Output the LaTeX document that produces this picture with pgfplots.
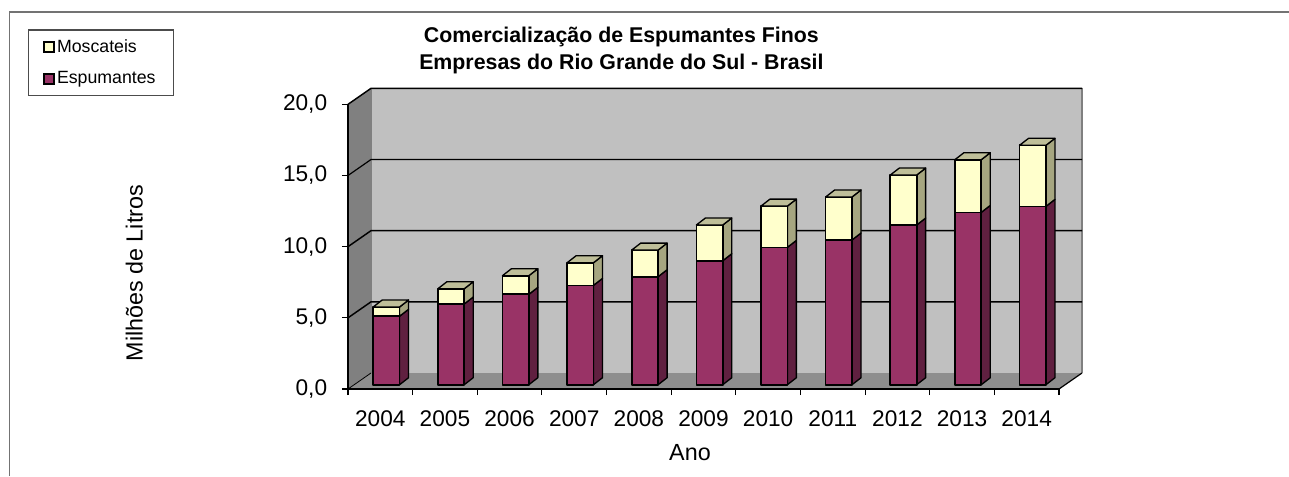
\documentclass[border=0pt]{standalone}
\usepackage{fontspec}
\setmainfont{Liberation Sans}
\usepackage{pgfplots}
\usepackage{pgfplotstable}
\pgfplotsset{compat=1.18}
\definecolor{wallback}{HTML}{C0C0C0}
\definecolor{wallleft}{HTML}{808080}
\definecolor{wallfloor}{HTML}{8E8E8E}
\definecolor{espfront}{HTML}{993366}
\definecolor{espside}{HTML}{602040}
\definecolor{mosfront}{HTML}{FFFFCC}
\definecolor{mosside}{HTML}{A6A680}
\definecolor{mostop}{HTML}{BFBF99}
\pgfplotstableread{
ano esp mos
2004 4.81 0.65
2005 5.67 1.07
2006 6.35 1.31
2007 6.98 1.59
2008 7.59 1.87
2009 8.71 2.51
2010 9.65 2.90
2011 10.17 3.02
2012 11.22 3.51
2013 12.11 3.70
2014 12.53 4.29
}\data
% offsets of the 3D projection, in data units
\def\sdx{0.139}\def\sdy{0.49}   % bar depth
\def\fdx{0.094}\def\fdy{0.302}  % bar front offset
\def\hw{0.204}                  % half width
\newcommand\segment[5]{% x, low, high, front, side
  \pgfmathsetmacro\xa{#1+\fdx-\hw}\pgfmathsetmacro\xb{#1+\fdx+\hw}\pgfmathsetmacro\xc{\xb+\sdx}%
  \pgfmathsetmacro\ya{#2+\fdy}\pgfmathsetmacro\yb{#3+\fdy}%
  \pgfmathsetmacro\yc{\ya+\sdy}\pgfmathsetmacro\yd{\yb+\sdy}%
  \edef\temp{\noexpand\addplot[forget plot,mark=none,fill=#5,draw=black,line width=1pt,line join=round] coordinates {(\xb,\ya)(\xc,\yc)(\xc,\yd)(\xb,\yb)} -- cycle;
  \noexpand\addplot[forget plot,mark=none,fill=#4,draw=black,line width=1.25pt,line join=round] coordinates {(\xa,\ya)(\xb,\ya)(\xb,\yb)(\xa,\yb)} -- cycle;}\temp}
\newcommand\topface[2]{% x, high
  \pgfmathsetmacro\xa{#1+\fdx-\hw}\pgfmathsetmacro\xb{#1+\fdx+\hw}%
  \pgfmathsetmacro\xc{\xb+\sdx}\pgfmathsetmacro\xd{\xa+\sdx}%
  \pgfmathsetmacro\yb{#2+\fdy}\pgfmathsetmacro\yd{\yb+\sdy}%
  \edef\temp{\noexpand\addplot[forget plot,mark=none,fill=mostop,draw=black,line width=1pt,line join=round] coordinates {(\xa,\yb)(\xb,\yb)(\xc,\yd)(\xd,\yd)} -- cycle;}\temp}
\begin{document}
\begin{tikzpicture}[x=0.75pt,y=0.75pt]
\path[use as bounding box,fill=white] (0,0) rectangle (1289,476);
\draw[color=black!55,line width=1.1pt] (9.5,0) -- (9.5,464) -- (1289,464);
\begin{axis}[
  at={(261pt,65.25pt)},anchor=south west,
  scale only axis,width=533.25pt,height=213.5pt,
  clip=false,axis on top,
  xmin=-0.5,xmax=10.5,ymin=0,ymax=20,
  axis lines=left,axis line style={-,black,line width=1.2pt},
  xtick={0,...,10},xticklabels={2004,2005,2006,2007,2008,2009,2010,2011,2012,2013,2014},
  minor xtick={-0.5,0.5,...,10.5},
  ytick={0,5,...,20},
  tick style={black,line width=.8pt},
  major x tick style={draw=none},
  tick align=outside,major tick length=4.6pt,minor tick length=4.6pt,
  tick label style={font=\fontsize{17}{20}\selectfont},
  xticklabel style={yshift=-8pt},
  yticklabel style={xshift=-7.5pt,/pgf/number format/.cd,fixed,fixed zerofill,precision=1,use comma,assume math mode=true},
  label style={font=\fontsize{17.5}{20}\selectfont},
  xlabel={Ano},
  xlabel style={at={(axis description cs:0.481,-0.224)},anchor=center},
  ylabel={Milhões de Litros},
  ylabel style={at={(axis description cs:-0.3005,0.407)},anchor=center},
  title style={at={(axis description cs:0.3845,1.0626)},anchor=south,align=center,font=\fontsize{16}{20.2}\selectfont\bfseries},
  title={Comercialização de Espumantes Finos\\Empresas do Rio Grande do Sul - Brasil},
  legend style={at={(axis description cs:-0.45,1.263)},anchor=north west,draw=black!70,line width=.8pt,
    font=\fontsize{13.3}{16}\selectfont,row sep=8.5pt,inner xsep=11.75pt,inner ysep=5.5pt},
  legend cell align=left,
]
% walls
\addplot[forget plot,fill=wallleft,draw=none] coordinates {(-0.5,0)(-0.5,20)(-0.144,21.124)(-0.144,1.124)} -- cycle;
\addplot[forget plot,fill=wallfloor,draw=none] coordinates {(-0.5,0)(10.5,0)(10.856,1.124)(-0.144,1.124)} -- cycle;
\addplot[forget plot,fill=wallback,draw=none] coordinates {(-0.144,1.124)(10.856,1.124)(10.856,21.124)(-0.144,21.124)} -- cycle;
\addplot[forget plot,draw=black!50,line width=.9pt] coordinates {(-0.144,1.124)(-0.144,21.124)};
\addplot[forget plot,draw=black!50,line width=.9pt] coordinates {(10.856,1.124)(10.856,21.124)};
% gridlines
\addplot[forget plot,draw=black,line width=1.1pt] coordinates {(-0.5,5)(-0.144,6.124)(10.856,6.124)};
\addplot[forget plot,draw=black,line width=1.1pt] coordinates {(-0.5,10)(-0.144,11.124)(10.856,11.124)};
\addplot[forget plot,draw=black,line width=.9pt] coordinates {(-0.5,15)(-0.144,16.124)(10.856,16.124)};
\addplot[forget plot,draw=black,line width=1.1pt] coordinates {(-0.5,20)(-0.144,21.124)(10.856,21.124)};
\addplot[forget plot,draw=black,line width=.6pt] coordinates {(-0.5,0)(-0.144,1.124)};
\addplot[forget plot,draw=black,line width=.9pt] coordinates {(10.5,0)(10.856,1.124)};
% bars
\pgfplotsinvokeforeach{0,...,10}{
  \pgfplotstablegetelem{#1}{esp}\of\data\let\vesp\pgfplotsretval
  \pgfplotstablegetelem{#1}{mos}\of\data\let\vmos\pgfplotsretval
  \pgfmathsetmacro\vtot{\vesp+\vmos}
  \segment{#1}{0}{\vesp}{espfront}{espside}
  \segment{#1}{\vesp}{\vtot}{mosfront}{mosside}
  \topface{#1}{\vtot}
}
\addlegendimage{only marks,mark=square*,mark size=3.8pt,mark options={fill=mosfront,draw=black,line width=1.5pt}}
\addlegendentry{Moscateis}
\addlegendimage{only marks,mark=square*,mark size=3.8pt,mark options={fill=espfront,draw=black,line width=1.5pt}}
\addlegendentry{Espumantes}
\end{axis}
\end{tikzpicture}
\end{document}
